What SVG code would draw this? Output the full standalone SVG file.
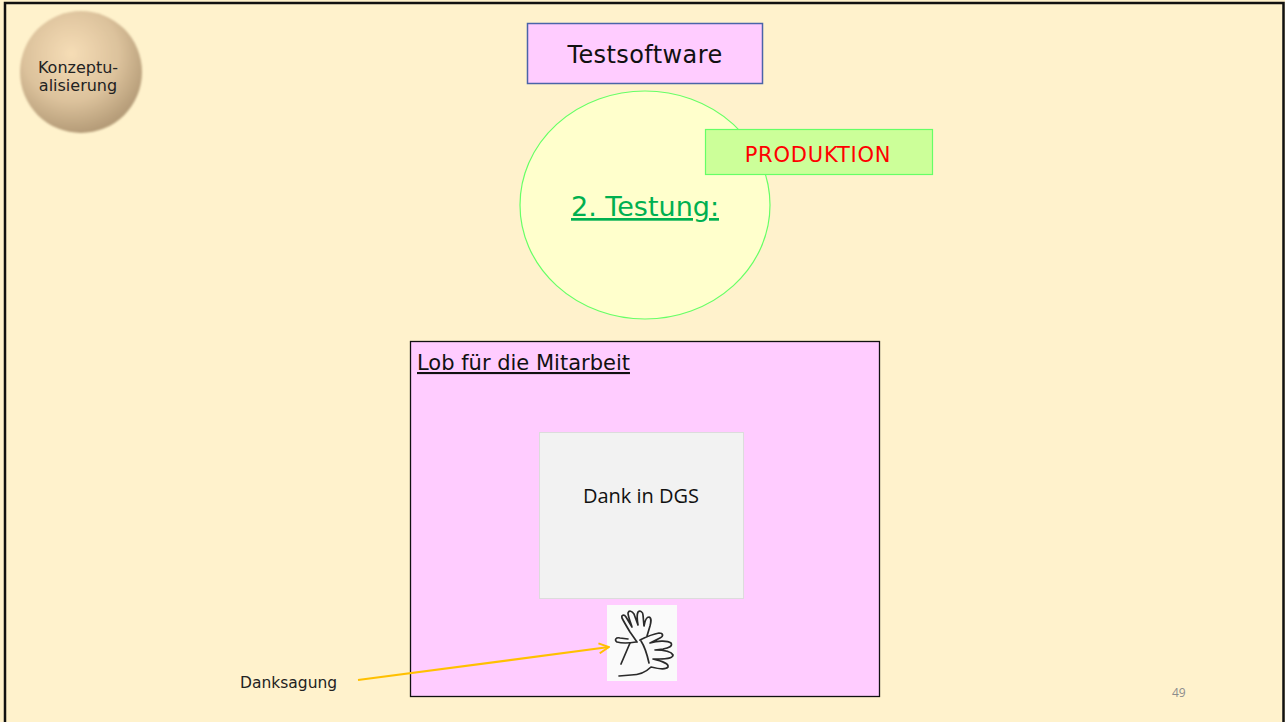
<svg xmlns="http://www.w3.org/2000/svg" width="1285" height="722" viewBox="0 0 1285 722">
  <defs>
    <radialGradient id="ballGrad" cx="0.42" cy="0.35" r="0.65">
      <stop offset="0" stop-color="#F6DDB6"/>
      <stop offset="0.6" stop-color="#DCC29C"/>
      <stop offset="1" stop-color="#B59C78"/>
    </radialGradient>
    <filter id="soft" x="-10%" y="-10%" width="120%" height="120%">
      <feGaussianBlur stdDeviation="1"/>
    </filter>
    <marker id="openArrow" viewBox="0 0 12 12" refX="11" refY="6" markerWidth="12" markerHeight="12" markerUnits="userSpaceOnUse" orient="auto">
      <path d="M1,1 L11,6 L1,11" fill="none" stroke="#FFC000" stroke-width="2"/>
    </marker>
    <style>
      .sans { font-family: Verdana, "DejaVu Sans", "Liberation Sans", sans-serif; }
      .hand { fill: none; stroke: #2A2A2A; stroke-width: 1.7; stroke-linejoin: round; stroke-linecap: round; }
    </style>
  </defs>

  <!-- page -->
  <rect x="0" y="0" width="1285" height="722" fill="#FFF2CC"/>
  <path d="M5,722 V3 H1283.5 V722" fill="none" stroke="#111" stroke-width="2.5"/>

  <!-- phase badge -->
  <g id="konzeptualisierung">
    <circle cx="81" cy="72" r="61" fill="url(#ballGrad)" filter="url(#soft)"/>
    <text class="sans" x="78" y="73" font-size="16" text-anchor="middle" fill="#222">Konzeptu-</text>
    <text class="sans" x="78" y="91" font-size="16" text-anchor="middle" fill="#222">alisierung</text>
  </g>

  <g id="testsoftware">
    <rect x="527.5" y="23.5" width="235" height="60" fill="#FFCCFF" stroke="#4A64A8" stroke-width="1.5"/>
    <text class="sans" x="645" y="63" font-size="24" letter-spacing="0.4" text-anchor="middle" fill="#111">Testsoftware</text>
  </g>

  <g id="testung">
    <ellipse cx="645" cy="205" rx="125" ry="114" fill="#FFFFCC" stroke="#66FF66" stroke-width="1.2"/>
    <text class="sans" x="645" y="216" font-size="27" text-anchor="middle" fill="#00B050" text-decoration="underline">2. Testung:</text>
  </g>

  <g id="produktion">
    <rect x="705.5" y="129.5" width="227" height="45" fill="#CCFF99" stroke="#66FF66" stroke-width="1.2"/>
    <text class="sans" x="818" y="162" font-size="21" letter-spacing="0.8" text-anchor="middle" fill="#FF0000">PRODUKTION</text>
  </g>

  <g id="lob">
    <rect x="410.5" y="341.5" width="469" height="355" fill="#FFCCFF" stroke="#111" stroke-width="1.3"/>
    <text class="sans" x="417" y="370" font-size="21" fill="#111" text-decoration="underline">Lob für die Mitarbeit</text>
  </g>

  <g id="dank-dgs">
    <rect x="539.5" y="432.5" width="204" height="166" fill="#F2F2F2" stroke="#DCDCDC" stroke-width="1"/>
    <text x="641" y="503" font-size="20" text-anchor="middle" fill="#111" font-family="'Open Sans', 'Liberation Sans', sans-serif">Dank in DGS</text>
  </g>

  <!-- sign pictogram: two spread hands -->
  <g id="gebaerde">
    <rect x="607" y="605" width="70" height="76" fill="#FAFAFA"/>
    <!-- upright hand -->
    <path class="hand" d="M637,642 L630,632 C627,627 624,622 622,618 C621,615 624,614 626,617 L632,627 C630,621 628,616 628,613 C629,610 632,611 634,614 L638,625 C637,619 637,614 638,612 C640,610 643,612 643,615 L644,626 C645,620 647,617 649,617 C652,618 651,622 650,626 L647,636"/>
    <!-- thumb of upright hand -->
    <path class="hand" d="M636,642 C630,643 624,644 617,642 C614,640 616,637 620,638 L628,639"/>
    <path class="hand" d="M630,643 C627,650 624,657 621,664"/>
    <!-- horizontal hand -->
    <path class="hand" d="M640,640 C646,637 653,634 659,633 C663,633 664,636 660,638 L650,643 C657,641 667,640 671,643 C673,646 669,648 663,649 L655,650 C663,650 671,651 673,655 C673,658 667,659 659,659 L653,659 C661,661 669,663 668,667 C666,670 659,669 651,667 C646,672 640,675 631,675 L619,676"/>
    <path class="hand" d="M641,641 C645,647 647,654 649,663"/>
  </g>

  <g id="connectors">
    <line x1="358" y1="680" x2="609" y2="647" stroke="#FFC000" stroke-width="2.2" marker-end="url(#openArrow)"/>
  </g>

  <g id="danksagung">
    <text class="sans" x="240" y="688" font-size="15.5" fill="#222">Danksagung</text>
  </g>

  <text x="1172" y="697" font-size="12" fill="#8C8C8C" font-family="'Open Sans', 'Liberation Sans', sans-serif">49</text>
</svg>
